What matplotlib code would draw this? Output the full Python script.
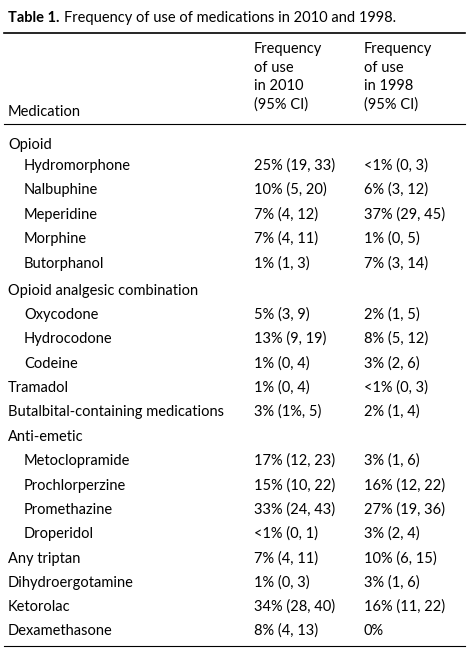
import matplotlib.pyplot as plt

plt.rcParams['font.family'] = ['Lato', 'DejaVu Sans']

medications = ["Opioid", "Hydromorphone", "Nalbuphine", "Meperidine", "Morphine", "Butorphanol",
               "Opioid analgesic combination", "Oxycodone", "Hydrocodone", "Codeine", "Tramadol",
               "Butalbital-containing medications", "Anti-emetic", "Metoclopramide", "Prochlorperzine",
               "Promethazine", "Droperidol", "Any triptan", "Dihydroergotamine", "Ketorolac", "Dexamethasone"]
indented = [False, True, True, True, True, True, False, True, True, True, False,
            False, False, True, True, True, True, False, False, False, False]
freq_2010 = ["", "25% (19, 33)", "10% (5, 20)", "7% (4, 12)", "7% (4, 11)", "1% (1, 3)",
             "", "5% (3, 9)", "13% (9, 19)", "1% (0, 4)", "1% (0, 4)", "3% (1%, 5)",
             "", "17% (12, 23)", "15% (10, 22)", "33% (24, 43)", "<1% (0, 1)", "7% (4, 11)",
             "1% (0, 3)", "34% (28, 40)", "8% (4, 13)"]
freq_1998 = ["", "<1% (0, 3)", "6% (3, 12)", "37% (29, 45)", "1% (0, 5)", "7% (3, 14)",
             "", "2% (1, 5)", "8% (5, 12)", "3% (2, 6)", "<1% (0, 3)", "2% (1, 4)",
             "", "3% (1, 6)", "16% (12, 22)", "27% (19, 36)", "3% (2, 4)", "10% (6, 15)",
             "3% (1, 6)", "16% (11, 22)", "0%"]
header_2010 = ["Frequency", "of use", "in 2010", "(95% CI)"]
header_1998 = ["Frequency", "of use", "in 1998", "(95% CI)"]
row_y = [145, 166, 190, 215, 239, 264, 291, 315, 339, 364, 388, 412, 437, 461, 486, 510, 534,
         559, 583, 607, 631]

fig = plt.figure(figsize=(4.69, 6.54), dpi=100)
ax = fig.add_axes([0, 0, 1, 1])
ax.set_xlim(0, 469)
ax.set_ylim(654, 0)
ax.axis('off')

fs = 10.5
ax.text(8, 18, "Table 1.", fontsize=fs, fontweight='bold', va='center')
ax.text(64, 18, "Frequency of use of medications in 2010 and 1998.", fontsize=fs, va='center')
ax.plot([4, 465], [33, 33], color='black', lw=1.2)
ax.plot([4, 465], [124, 124], color='black', lw=0.8)
ax.plot([4, 465], [646, 646], color='black', lw=0.8)

for i, (a, b) in enumerate(zip(header_2010, header_1998)):
    y = 49 + i * 18.5
    ax.text(254, y, a, fontsize=fs, va='center')
    ax.text(364, y, b, fontsize=fs, va='center')
ax.text(8, 112, "Medication", fontsize=fs, va='center')

for name, ind, a, b, y in zip(medications, indented, freq_2010, freq_1998, row_y):
    ax.text(24 if ind else 8, y, name, fontsize=fs, va='center')
    ax.text(254, y, a, fontsize=fs, va='center')
    ax.text(364, y, b, fontsize=fs, va='center')

fig.savefig("out.png", dpi=100)
